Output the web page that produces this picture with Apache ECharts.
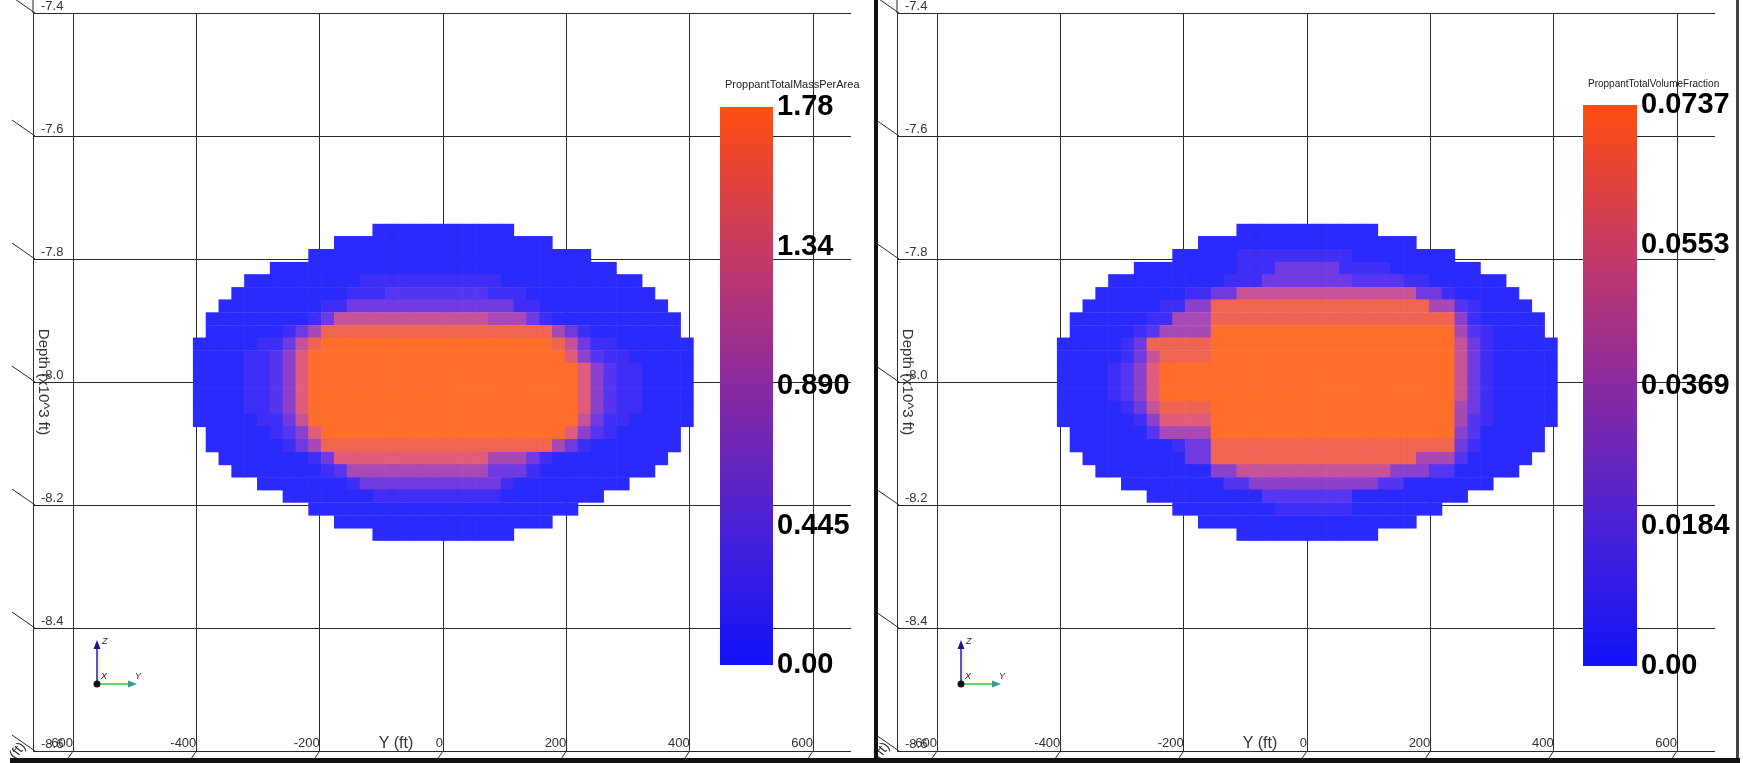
<!DOCTYPE html>
<html>
<head>
<meta charset="utf-8">
<script src="https://cdn.jsdelivr.net/npm/echarts@6.0.0/dist/echarts.min.js"></script>
<style>
  html, body { margin: 0; padding: 0; background: #fff; }
  #chart { width: 1743px; height: 763px; }
</style>
</head>
<body>
<div id="chart"></div>
<script>
// Cell centres along the fracture (Y, ft), left to right
const cellY = [
  -395.2, -374.4, -353.6, -332.8, -312.0, -291.2, -270.4, -249.6, -228.8, -208.0,
  -187.2, -166.4, -145.6, -124.8, -104.0, -83.2, -62.4, -41.6, -20.8, 0,
  20.8, 41.6, 62.4, 83.2, 104.0, 124.8, 145.6, 166.4, 187.2, 208.0,
  228.8, 249.6, 270.4, 291.2, 312.0, 332.8, 353.6, 374.4, 395.2
];
// Cell-row depths (x10^3 ft), top to bottom
const cellDepth = [
  -7.753, -7.773, -7.794, -7.815, -7.835, -7.856, -7.876, -7.897, -7.918, -7.938,
  -7.959, -7.979, -8.000, -8.021, -8.041, -8.062, -8.082, -8.103, -8.124, -8.144,
  -8.165, -8.185, -8.206, -8.227, -8.247
];

// Proppant total mass per area, one string per row, level 0..9 of the 0..1.78 range ('.' = no cell)
const massRows = [
  "..............00000000000..............",
  "...........00000000000000000...........",
  ".........0000000000000000000000........",
  "......000000000000000000000000000......",
  "....0000000001111111111100000000000....",
  "...000000000111222222221110000000000...",
  "..00000000113333333333333110000000000..",
  ".0000000013666666666666555310000000000.",
  ".0000001358888888888888888885310000000.",
  "000001136899999999999999999986311000000",
  "000011247999999999999999999997421100000",
  "000011247999999999999999999999742110000",
  "000011247999999999999999999999742110000",
  "000011247999999999999999999999742110000",
  "000011247999999999999999999999742110000",
  "000001136999999999999999999999631100000",
  ".0000012479999999999999999999742100000.",
  ".0000001358888888888888888885310000000.",
  "..00000001377777777777755531000000000..",
  "...000000012555555555553331000000000...",
  ".....00000001333333333331000000000.....",
  ".......0000000111111111100000000.......",
  ".........000000000000000000000.........",
  "...........00000000000000000...........",
  "..............00000000000.............."
];

// Proppant total volume fraction, level 0..9 of the 0..0.0737 range
const fracRows = [
  "..............00000000000..............",
  "...........00000000000000000...........",
  ".........0000011111111100000000........",
  "......000000001113333311110000000......",
  "....0000000001113333333222211000000....",
  "...000000011336666666666666633100000...",
  "..00000011448888888888888888855210000..",
  ".0000001155588888888888888888884100000.",
  ".0000012555599999999999999999995210000.",
  "000001388888999999999999999999963100000",
  "000001368888999999999999999999963100000",
  "000012479999999999999999999999963100000",
  "000012479999999999999999999999963100000",
  "000012479999999999999999999999963100000",
  "000001368888999999999999999999953100000",
  "000000147777999999999999999999952100000",
  ".0000002555599999999999999999994200000.",
  ".0000000013388888888888888888883100000.",
  "..00000000338888888888888888555200000..",
  "...000000000446666666666664442200000...",
  ".....00000000224444444444220000000.....",
  ".......0000000002222222000000000.......",
  ".........000000001111110000000.........",
  "...........00000000000000000...........",
  "..............00000000000.............."
];

const LEVELS = 9;
const MASS_MAX = 1.78;
const FRAC_MAX = 0.0737;
const massTickLabels = ['0.00', '0.445', '0.890', '1.34', '1.78'];
const fracTickLabels = ['0.00', '0.0184', '0.0369', '0.0553', '0.0737'];
const yTickValues = [-600, -400, -200, 0, 200, 400, 600];
const yTickLabels = ['-600', '-400', '-200', '0', '200', '400', '600'];
const depthTickValues = [-8.6, -8.4, -8.2, -8.0, -7.8, -7.6, -7.4];
const depthTickLabels = ['-8.6', '-8.4', '-8.2', '-8.0', '-7.8', '-7.6', '-7.4'];

// Cell size of the fracture mesh
const CELL_W = 20.8;     // ft
const CELL_H = 0.0206;   // x10^3 ft

const FONT = 'Liberation Sans, Arial, sans-serif';
const LINE = '#2a2a2a';
const SURFACE = ['#2a2afc', '#5a36ee', '#9a44c4', '#dc5a84', '#ff6e2a'];
const BAR_COLORS = ['#1212fa', '#4a22d6', '#8a2aa0', '#c83a62', '#ff4e10'];

function rowsToData(rows, max) {
  const out = [];
  rows.forEach((row, r) => {
    for (let c = 0; c < row.length; c++) {
      const ch = row[c];
      if (ch === '.') continue;
      out.push([cellY[c], cellDepth[r], Number(ch) / LEVELS * max]);
    }
  });
  return out;
}

function renderCell(params, api) {
  const a = api.coord([api.value(0) - CELL_W / 2, api.value(1) + CELL_H / 2]);
  const b = api.coord([api.value(0) + CELL_W / 2, api.value(1) - CELL_H / 2]);
  return {
    type: 'rect',
    shape: { x: a[0], y: a[1], width: b[0] - a[0] + 0.6, height: b[1] - a[1] + 0.6 },
    style: { fill: api.visual('color') }
  };
}

// Perspective ticks of the 3D bounding box
function renderDepthTick(params, api) {
  const p = api.coord([0, api.value(1)]);
  return { type: 'line', shape: { x1: p[0] - 21, y1: p[1] - 16, x2: p[0] + 2, y2: p[1] },
           style: { stroke: LINE, lineWidth: 1 } };
}
function renderYTick(params, api) {
  const p = api.coord([api.value(0), api.value(1)]);
  return { type: 'line', shape: { x1: p[0], y1: p[1], x2: p[0] - 6, y2: p[1] + 9 },
           style: { stroke: LINE, lineWidth: 1 } };
}

const panels = [
  { dx: 0, rows: massRows, max: MASS_MAX, tickLabels: massTickLabels,
    title: 'ProppantTotalMassPerArea', titleSize: 11, bar: { left: 720, top: 107, width: 53, height: 558 } },
  { dx: 864, rows: fracRows, max: FRAC_MAX, tickLabels: fracTickLabels,
    title: 'ProppantTotalVolumeFraction', titleSize: 10, bar: { left: 1583, top: 105, width: 54, height: 561 } }
];

const grid = [], xAxis = [], yAxis = [], series = [], visualMap = [], title = [], graphic = [];

panels.forEach(p => {
  const g = grid.length;
  grid.push({ left: 33 + p.dx, top: 13, width: 818, height: 738, outerBoundsMode: 'none' });
  grid.push({ left: 73 + p.dx, top: 13, width: 740, height: 738, outerBoundsMode: 'none' });
  grid.push({ left: p.bar.left, top: p.bar.top, width: p.bar.width, height: p.bar.height, outerBoundsMode: 'none' });

  // box frame: horizontal depth lines and depth labels
  xAxis.push({ gridIndex: g, type: 'value', min: 0, max: 1, show: false });
  yAxis.push({
    gridIndex: g, type: 'value', min: -8.6, max: -7.4, interval: 0.2,
    axisLine: { show: true, onZero: false, lineStyle: { color: LINE, width: 1 } },
    axisTick: { show: false },
    splitLine: { show: true, lineStyle: { color: LINE, width: 1 } },
    axisLabel: { inside: true, margin: 8, verticalAlign: 'bottom', fontSize: 13, color: '#333',
                 fontFamily: FONT, interval: 0, formatter: (v, i) => depthTickLabels[i] },
    name: 'Depth (x10^3 ft)', nameLocation: 'middle', nameRotate: -90, nameGap: -18,
    nameMoveOverlap: false,
    nameTextStyle: { fontSize: 15, color: '#333', fontFamily: FONT }
  });

  // plot area: vertical Y lines, Y labels and the fracture cells
  xAxis.push({
    gridIndex: g + 1, type: 'value', min: -600, max: 600, interval: 200,
    axisLine: { show: false }, axisTick: { show: false },
    splitLine: { show: true, lineStyle: { color: LINE, width: 1 } },
    axisLabel: { inside: true, align: 'right', verticalAlign: 'bottom', margin: 1, fontSize: 13,
                 color: '#333', fontFamily: FONT, interval: 0, formatter: (v, i) => yTickLabels[i] },
    name: 'Y (ft)', nameLocation: 'middle', nameGap: -15, nameMoveOverlap: false,
    nameTextStyle: { fontSize: 16, color: '#333', fontFamily: FONT, padding: [0, 94, 0, 0] }
  });
  yAxis.push({ gridIndex: g + 1, type: 'value', min: -8.6, max: -7.4, show: false });

  // colour legend bar
  xAxis.push({ gridIndex: g + 2, type: 'category', data: [p.title], show: false });
  yAxis.push({
    gridIndex: g + 2, type: 'value', position: 'right', min: 0, max: p.max, interval: p.max / 4,
    axisLine: { show: false }, axisTick: { show: false }, splitLine: { show: false },
    axisLabel: { show: true, margin: 4, fontSize: 29, fontWeight: 'bold', color: '#000',
                 fontFamily: FONT, padding: [0, 0, 6, 0], interval: 0,
                 showMinLabel: true, showMaxLabel: true,
                 formatter: (v, i) => p.tickLabels[i] }
  });

  const cellIdx = series.length;
  series.push({
    type: 'custom', xAxisIndex: g + 1, yAxisIndex: g + 1, silent: true,
    data: rowsToData(p.rows, p.max), encode: { x: 0, y: 1 }, renderItem: renderCell
  });
  visualMap.push({ type: 'continuous', show: false, seriesIndex: cellIdx, dimension: 2,
                   min: 0, max: p.max, inRange: { color: SURFACE } });
  series.push({
    type: 'custom', xAxisIndex: g, yAxisIndex: g, silent: true,
    data: depthTickValues.map(v => [0, v]), encode: { x: 0, y: 1 }, renderItem: renderDepthTick
  });
  series.push({
    type: 'custom', xAxisIndex: g + 1, yAxisIndex: g + 1, silent: true,
    data: yTickValues.map(v => [v, -8.6]), encode: { x: 0, y: 1 }, renderItem: renderYTick
  });
  series.push({
    type: 'bar', xAxisIndex: g + 2, yAxisIndex: g + 2, silent: true, barWidth: '100%',
    data: [p.max],
    itemStyle: { color: { type: 'linear', x: 0, y: 1, x2: 0, y2: 0,
      colorStops: BAR_COLORS.map((c, i) => ({ offset: i / (BAR_COLORS.length - 1), color: c })) } }
  });

  title.push({ text: p.title, left: p.bar.left + 5, top: 79, padding: 0,
               textStyle: { fontSize: p.titleSize, fontWeight: 'normal', color: '#222', fontFamily: FONT } });

  // upper end of the box edge above the top depth line
  graphic.push({ type: 'line', silent: true, shape: { x1: 33 + p.dx, y1: 0, x2: 33 + p.dx, y2: 13 },
                 style: { stroke: LINE, lineWidth: 1 } });

  // orientation axes triad
  graphic.push({
    type: 'group', x: 97 + p.dx, y: 684, silent: true, children: [
      { type: 'line', shape: { x1: 2, y1: -2, x2: 2, y2: -34 }, style: { stroke: '#e8e07c', lineWidth: 1 } },
      { type: 'line', shape: { x1: 0, y1: 0, x2: 0, y2: -36 }, style: { stroke: '#2020b0', lineWidth: 1.5 } },
      { type: 'polygon', shape: { points: [[0, -44], [-3.5, -35], [3.5, -35]] }, style: { fill: '#1a1a90' } },
      { type: 'line', shape: { x1: 0, y1: 0, x2: 32, y2: 0 }, style: { stroke: '#2ccc2c', lineWidth: 1.5 } },
      { type: 'polygon', shape: { points: [[40, 0], [31, -3.5], [31, 3.5]] }, style: { fill: '#3a9a9a' } },
      { type: 'circle', shape: { cx: 0, cy: 0, r: 3.5 }, style: { fill: '#111' } },
      { type: 'text', x: 5, y: -47, style: { text: 'Z', font: 'italic 9px Liberation Sans', fill: '#222' } },
      { type: 'text', x: 4, y: -12, style: { text: 'X', font: 'italic 9px Liberation Sans', fill: '#222' } },
      { type: 'text', x: 38, y: -12, style: { text: 'Y', font: 'italic 9px Liberation Sans', fill: '#222' } }
    ]
  });
  graphic.push({
    type: 'text', x: 18 + p.dx, y: 762, rotation: 0.9, silent: true,
    style: { text: '(ft)', fontSize: 14, fontFamily: FONT, fill: '#333', verticalAlign: 'bottom' }
  });
});

// window frame
graphic.push(
  { type: 'rect', silent: true, z: 100, shape: { x: 874, y: 0, width: 4, height: 763 }, style: { fill: '#111' } },
  { type: 'rect', silent: true, z: 100, shape: { x: 1736, y: 0, width: 3, height: 763 }, style: { fill: '#444' } },
  { type: 'rect', silent: true, z: 100, shape: { x: 10, y: 758, width: 1730, height: 5 }, style: { fill: '#111' } }
);

const chart = echarts.init(document.getElementById('chart'), null, { renderer: 'canvas', width: 1743, height: 763 });
chart.setOption({
  backgroundColor: '#fff',
  animation: false,
  textStyle: { fontFamily: FONT },
  title, grid, xAxis, yAxis, visualMap, series, graphic
});
</script>
</body>
</html>
